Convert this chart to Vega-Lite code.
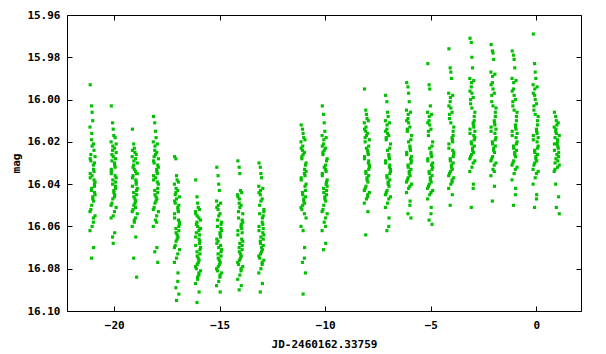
{
"$schema": "https://vega.github.io/schema/vega-lite/v6.json",
"width": 514, "height": 296,
"autosize": "none",
"padding": {"left": 67, "top": 15, "right": 25, "bottom": 43},
"background": "white",
"config": {
  "view": {"stroke": "black", "strokeWidth": 1},
  "axis": {"domain": false, "grid": false, "tickColor": "black", "tickWidth": 1, "tickSize": -5,
           "labelFont": "DejaVu Sans Mono", "labelFontWeight": "bold", "labelFontSize": 11, "labelColor": "black",
           "titleFont": "DejaVu Sans Mono", "titleFontWeight": "bold", "titleFontSize": 11, "titleColor": "black"}
},
"layer": [
{
"data": {"values": [
{"t":-21.14,"m":15.993},{"t":-20.99,"m":16.031},{"t":-21.08,"m":16.003},{"t":-20.94,"m":16.044},{"t":-21.05,"m":16.006},{"t":-20.91,"m":16.027},{"t":-21.11,"m":16.052},{"t":-21.02,"m":16.010},{"t":-20.96,"m":16.038},{"t":-21.15,"m":16.013},{"t":-20.98,"m":16.048},{"t":-21.07,"m":16.016},
{"t":-21.14,"m":16.035},{"t":-20.99,"m":16.058},{"t":-21.08,"m":16.019},{"t":-20.94,"m":16.041},{"t":-21.05,"m":16.022},{"t":-20.91,"m":16.055},{"t":-21.11,"m":16.029},{"t":-21.02,"m":16.046},{"t":-20.96,"m":16.024},{"t":-21.15,"m":16.062},{"t":-20.98,"m":16.033},{"t":-21.07,"m":16.050},
{"t":-21.14,"m":16.037},{"t":-20.99,"m":16.021},{"t":-21.08,"m":16.043},{"t":-20.94,"m":16.030},{"t":-21.05,"m":16.060},{"t":-20.91,"m":16.039},{"t":-21.11,"m":16.026},{"t":-21.02,"m":16.047},{"t":-20.96,"m":16.034},{"t":-21.15,"m":16.053},{"t":-20.98,"m":16.070},{"t":-21.07,"m":16.042},
{"t":-21.14,"m":16.028},{"t":-20.99,"m":16.056},{"t":-21.08,"m":16.075},{"t":-20.94,"m":16.040},{"t":-21.05,"m":16.036},{"t":-20.91,"m":16.045},
{"t":-20.14,"m":16.003},{"t":-19.99,"m":16.030},{"t":-20.08,"m":16.011},{"t":-19.94,"m":16.041},{"t":-20.05,"m":16.014},{"t":-19.91,"m":16.025},{"t":-20.11,"m":16.049},{"t":-20.02,"m":16.017},{"t":-19.96,"m":16.036},{"t":-20.15,"m":16.020},{"t":-19.98,"m":16.045},{"t":-20.07,"m":16.022},
{"t":-20.14,"m":16.033},{"t":-19.99,"m":16.053},{"t":-20.08,"m":16.024},{"t":-19.94,"m":16.039},{"t":-20.05,"m":16.027},{"t":-19.91,"m":16.051},{"t":-20.11,"m":16.029},{"t":-20.02,"m":16.043},{"t":-19.96,"m":16.018},{"t":-20.15,"m":16.056},{"t":-19.98,"m":16.031},{"t":-20.07,"m":16.047},
{"t":-20.14,"m":16.035},{"t":-19.99,"m":16.023},{"t":-20.08,"m":16.040},{"t":-19.94,"m":16.028},{"t":-20.05,"m":16.055},{"t":-19.91,"m":16.037},{"t":-20.11,"m":16.026},{"t":-20.02,"m":16.044},{"t":-19.96,"m":16.032},{"t":-20.15,"m":16.050},{"t":-19.98,"m":16.063},{"t":-20.07,"m":16.038},
{"t":-20.14,"m":16.034},{"t":-19.99,"m":16.046},{"t":-20.08,"m":16.065},{"t":-19.94,"m":16.042},{"t":-20.05,"m":16.068},{"t":-19.91,"m":16.021},
{"t":-19.14,"m":16.014},{"t":-18.99,"m":16.034},{"t":-19.08,"m":16.021},{"t":-18.94,"m":16.045},{"t":-19.05,"m":16.023},{"t":-18.91,"m":16.030},{"t":-19.11,"m":16.052},{"t":-19.02,"m":16.025},{"t":-18.96,"m":16.040},{"t":-19.15,"m":16.027},{"t":-18.98,"m":16.048},{"t":-19.07,"m":16.029},
{"t":-19.14,"m":16.037},{"t":-18.99,"m":16.056},{"t":-19.08,"m":16.031},{"t":-18.94,"m":16.043},{"t":-19.05,"m":16.033},{"t":-18.91,"m":16.054},{"t":-19.11,"m":16.036},{"t":-19.02,"m":16.047},{"t":-18.96,"m":16.026},{"t":-19.15,"m":16.060},{"t":-18.98,"m":16.038},{"t":-19.07,"m":16.050},
{"t":-19.14,"m":16.041},{"t":-18.99,"m":16.028},{"t":-19.08,"m":16.044},{"t":-18.94,"m":16.035},{"t":-19.05,"m":16.058},{"t":-18.91,"m":16.042},{"t":-19.11,"m":16.032},{"t":-19.02,"m":16.049},{"t":-18.96,"m":16.039},{"t":-19.15,"m":16.053},{"t":-18.98,"m":16.065},{"t":-19.07,"m":16.046},
{"t":-19.14,"m":16.024},{"t":-18.99,"m":16.051},{"t":-19.08,"m":16.075},{"t":-18.94,"m":16.084},{"t":-19.05,"m":16.057},{"t":-18.91,"m":16.035},
{"t":-18.14,"m":16.008},{"t":-17.99,"m":16.033},{"t":-18.08,"m":16.011},{"t":-17.94,"m":16.044},{"t":-18.05,"m":16.015},{"t":-17.91,"m":16.028},{"t":-18.11,"m":16.051},{"t":-18.02,"m":16.018},{"t":-17.96,"m":16.039},{"t":-18.15,"m":16.020},{"t":-17.98,"m":16.047},{"t":-18.07,"m":16.022},
{"t":-18.14,"m":16.036},{"t":-17.99,"m":16.055},{"t":-18.08,"m":16.024},{"t":-17.94,"m":16.042},{"t":-18.05,"m":16.026},{"t":-17.91,"m":16.053},{"t":-18.11,"m":16.030},{"t":-18.02,"m":16.046},{"t":-17.96,"m":16.021},{"t":-18.15,"m":16.060},{"t":-17.98,"m":16.034},{"t":-18.07,"m":16.049},
{"t":-18.14,"m":16.038},{"t":-17.99,"m":16.025},{"t":-18.08,"m":16.043},{"t":-17.94,"m":16.031},{"t":-18.05,"m":16.057},{"t":-17.91,"m":16.040},{"t":-18.11,"m":16.027},{"t":-18.02,"m":16.048},{"t":-17.96,"m":16.035},{"t":-18.15,"m":16.052},{"t":-17.98,"m":16.070},{"t":-18.07,"m":16.045},
{"t":-18.14,"m":16.029},{"t":-17.99,"m":16.058},{"t":-18.08,"m":16.072},{"t":-17.94,"m":16.077},{"t":-18.05,"m":16.037},{"t":-17.91,"m":16.032},
{"t":-17.14,"m":16.027},{"t":-16.99,"m":16.051},{"t":-17.08,"m":16.028},{"t":-16.94,"m":16.062},{"t":-17.05,"m":16.036},{"t":-16.91,"m":16.046},{"t":-17.11,"m":16.069},{"t":-17.02,"m":16.038},{"t":-16.96,"m":16.057},{"t":-17.15,"m":16.040},{"t":-16.98,"m":16.065},{"t":-17.07,"m":16.042},
{"t":-17.14,"m":16.054},{"t":-16.99,"m":16.073},{"t":-17.08,"m":16.044},{"t":-16.94,"m":16.060},{"t":-17.05,"m":16.047},{"t":-16.91,"m":16.071},{"t":-17.11,"m":16.049},{"t":-17.02,"m":16.064},{"t":-16.96,"m":16.039},{"t":-17.15,"m":16.077},{"t":-16.98,"m":16.052},{"t":-17.07,"m":16.067},
{"t":-17.14,"m":16.056},{"t":-16.99,"m":16.043},{"t":-17.08,"m":16.061},{"t":-16.94,"m":16.050},{"t":-17.05,"m":16.075},{"t":-16.91,"m":16.058},{"t":-17.11,"m":16.045},{"t":-17.02,"m":16.066},{"t":-16.96,"m":16.053},{"t":-17.15,"m":16.070},{"t":-16.98,"m":16.082},{"t":-17.07,"m":16.063},
{"t":-17.14,"m":16.048},{"t":-16.99,"m":16.086},{"t":-17.08,"m":16.089},{"t":-16.94,"m":16.092},{"t":-17.05,"m":16.095},{"t":-16.91,"m":16.059},
{"t":-16.14,"m":16.038},{"t":-15.99,"m":16.062},{"t":-16.08,"m":16.046},{"t":-15.94,"m":16.073},{"t":-16.05,"m":16.049},{"t":-15.91,"m":16.057},{"t":-16.11,"m":16.080},{"t":-16.02,"m":16.051},{"t":-15.96,"m":16.068},{"t":-16.15,"m":16.053},{"t":-15.98,"m":16.076},{"t":-16.07,"m":16.055},
{"t":-16.14,"m":16.065},{"t":-15.99,"m":16.083},{"t":-16.08,"m":16.058},{"t":-15.94,"m":16.071},{"t":-16.05,"m":16.060},{"t":-15.91,"m":16.081},{"t":-16.11,"m":16.063},{"t":-16.02,"m":16.075},{"t":-15.96,"m":16.052},{"t":-16.15,"m":16.087},{"t":-15.98,"m":16.066},{"t":-16.07,"m":16.078},
{"t":-16.14,"m":16.069},{"t":-15.99,"m":16.056},{"t":-16.08,"m":16.072},{"t":-15.94,"m":16.061},{"t":-16.05,"m":16.085},{"t":-15.91,"m":16.070},{"t":-16.11,"m":16.059},{"t":-16.02,"m":16.077},{"t":-15.96,"m":16.064},{"t":-16.15,"m":16.079},{"t":-15.98,"m":16.091},{"t":-16.07,"m":16.074},
{"t":-16.14,"m":16.054},{"t":-15.99,"m":16.082},{"t":-16.08,"m":16.096},{"t":-15.94,"m":16.067},{"t":-16.05,"m":16.084},{"t":-15.91,"m":16.061},
{"t":-15.14,"m":16.032},{"t":-14.99,"m":16.063},{"t":-15.08,"m":16.036},{"t":-14.94,"m":16.074},{"t":-15.05,"m":16.040},{"t":-14.91,"m":16.058},{"t":-15.11,"m":16.081},{"t":-15.02,"m":16.043},{"t":-14.96,"m":16.069},{"t":-15.15,"m":16.048},{"t":-14.98,"m":16.077},{"t":-15.07,"m":16.050},
{"t":-15.14,"m":16.066},{"t":-14.99,"m":16.084},{"t":-15.08,"m":16.052},{"t":-14.94,"m":16.072},{"t":-15.05,"m":16.055},{"t":-14.91,"m":16.082},{"t":-15.11,"m":16.060},{"t":-15.02,"m":16.076},{"t":-14.96,"m":16.049},{"t":-15.15,"m":16.088},{"t":-14.98,"m":16.064},{"t":-15.07,"m":16.079},
{"t":-15.14,"m":16.068},{"t":-14.99,"m":16.054},{"t":-15.08,"m":16.073},{"t":-14.94,"m":16.061},{"t":-15.05,"m":16.086},{"t":-14.91,"m":16.071},{"t":-15.11,"m":16.057},{"t":-15.02,"m":16.078},{"t":-14.96,"m":16.065},{"t":-15.15,"m":16.080},{"t":-14.98,"m":16.091},{"t":-15.07,"m":16.075},
{"t":-15.14,"m":16.051},{"t":-14.99,"m":16.083},{"t":-15.08,"m":16.067},{"t":-14.94,"m":16.059},{"t":-15.05,"m":16.070},{"t":-14.91,"m":16.062},
{"t":-14.14,"m":16.029},{"t":-13.99,"m":16.060},{"t":-14.08,"m":16.032},{"t":-13.94,"m":16.071},{"t":-14.05,"m":16.035},{"t":-13.91,"m":16.054},{"t":-14.11,"m":16.078},{"t":-14.02,"m":16.043},{"t":-13.96,"m":16.066},{"t":-14.15,"m":16.045},{"t":-13.98,"m":16.074},{"t":-14.07,"m":16.047},
{"t":-14.14,"m":16.062},{"t":-13.99,"m":16.081},{"t":-14.08,"m":16.049},{"t":-13.94,"m":16.069},{"t":-14.05,"m":16.051},{"t":-13.91,"m":16.079},{"t":-14.11,"m":16.056},{"t":-14.02,"m":16.073},{"t":-13.96,"m":16.044},{"t":-14.15,"m":16.085},{"t":-13.98,"m":16.059},{"t":-14.07,"m":16.076},
{"t":-14.14,"m":16.064},{"t":-13.99,"m":16.050},{"t":-14.08,"m":16.070},{"t":-13.94,"m":16.057},{"t":-14.05,"m":16.083},{"t":-13.91,"m":16.067},{"t":-14.11,"m":16.053},{"t":-14.02,"m":16.075},{"t":-13.96,"m":16.061},{"t":-14.15,"m":16.077},{"t":-13.98,"m":16.088},{"t":-14.07,"m":16.072},
{"t":-14.14,"m":16.046},{"t":-13.99,"m":16.080},{"t":-14.08,"m":16.090},{"t":-13.94,"m":16.063},{"t":-14.05,"m":16.068},{"t":-13.91,"m":16.058},
{"t":-13.14,"m":16.030},{"t":-12.99,"m":16.058},{"t":-13.08,"m":16.032},{"t":-12.94,"m":16.069},{"t":-13.05,"m":16.035},{"t":-12.91,"m":16.052},{"t":-13.11,"m":16.075},{"t":-13.02,"m":16.037},{"t":-12.96,"m":16.063},{"t":-13.15,"m":16.041},{"t":-12.98,"m":16.071},{"t":-13.07,"m":16.043},
{"t":-13.14,"m":16.060},{"t":-12.99,"m":16.078},{"t":-13.08,"m":16.045},{"t":-12.94,"m":16.066},{"t":-13.05,"m":16.048},{"t":-12.91,"m":16.076},{"t":-13.11,"m":16.054},{"t":-13.02,"m":16.070},{"t":-12.96,"m":16.042},{"t":-13.15,"m":16.082},{"t":-12.98,"m":16.056},{"t":-13.07,"m":16.073},
{"t":-13.14,"m":16.062},{"t":-12.99,"m":16.047},{"t":-13.08,"m":16.067},{"t":-12.94,"m":16.055},{"t":-13.05,"m":16.080},{"t":-12.91,"m":16.064},{"t":-13.11,"m":16.050},{"t":-13.02,"m":16.072},{"t":-12.96,"m":16.059},{"t":-13.15,"m":16.074},{"t":-12.98,"m":16.087},{"t":-13.07,"m":16.068},
{"t":-13.14,"m":16.044},{"t":-12.99,"m":16.077},{"t":-13.08,"m":16.091},{"t":-12.94,"m":16.061},{"t":-13.05,"m":16.065},{"t":-12.91,"m":16.053},
{"t":-11.14,"m":16.012},{"t":-10.99,"m":16.035},{"t":-11.08,"m":16.014},{"t":-10.94,"m":16.046},{"t":-11.05,"m":16.016},{"t":-10.91,"m":16.030},{"t":-11.11,"m":16.052},{"t":-11.02,"m":16.018},{"t":-10.96,"m":16.041},{"t":-11.15,"m":16.020},{"t":-10.98,"m":16.049},{"t":-11.07,"m":16.022},
{"t":-11.14,"m":16.038},{"t":-10.99,"m":16.054},{"t":-11.08,"m":16.024},{"t":-10.94,"m":16.043},{"t":-11.05,"m":16.026},{"t":-10.91,"m":16.056},{"t":-11.11,"m":16.028},{"t":-11.02,"m":16.047},{"t":-10.96,"m":16.019},{"t":-11.15,"m":16.060},{"t":-10.98,"m":16.033},{"t":-11.07,"m":16.050},
{"t":-11.14,"m":16.037},{"t":-10.99,"m":16.025},{"t":-11.08,"m":16.044},{"t":-10.94,"m":16.031},{"t":-11.05,"m":16.062},{"t":-10.91,"m":16.040},{"t":-11.11,"m":16.027},{"t":-11.02,"m":16.048},{"t":-10.96,"m":16.036},{"t":-11.15,"m":16.051},{"t":-10.98,"m":16.070},{"t":-11.07,"m":16.045},
{"t":-11.14,"m":16.023},{"t":-10.99,"m":16.075},{"t":-11.08,"m":16.077},{"t":-10.94,"m":16.082},{"t":-11.05,"m":16.092},{"t":-10.91,"m":16.034},
{"t":-10.14,"m":16.003},{"t":-9.99,"m":16.033},{"t":-10.08,"m":16.007},{"t":-9.94,"m":16.045},{"t":-10.05,"m":16.011},{"t":-9.91,"m":16.028},{"t":-10.11,"m":16.052},{"t":-10.02,"m":16.015},{"t":-9.96,"m":16.040},{"t":-10.15,"m":16.017},{"t":-9.98,"m":16.048},{"t":-10.07,"m":16.019},
{"t":-10.14,"m":16.036},{"t":-9.99,"m":16.056},{"t":-10.08,"m":16.021},{"t":-9.94,"m":16.043},{"t":-10.05,"m":16.024},{"t":-9.91,"m":16.054},{"t":-10.11,"m":16.026},{"t":-10.02,"m":16.046},{"t":-9.96,"m":16.018},{"t":-10.15,"m":16.062},{"t":-9.98,"m":16.031},{"t":-10.07,"m":16.050},
{"t":-10.14,"m":16.035},{"t":-9.99,"m":16.023},{"t":-10.08,"m":16.042},{"t":-9.94,"m":16.029},{"t":-10.05,"m":16.058},{"t":-9.91,"m":16.038},{"t":-10.11,"m":16.025},{"t":-10.02,"m":16.047},{"t":-9.96,"m":16.034},{"t":-10.15,"m":16.053},{"t":-9.98,"m":16.068},{"t":-10.07,"m":16.044},
{"t":-10.14,"m":16.022},{"t":-9.99,"m":16.060},{"t":-10.08,"m":16.071},{"t":-9.94,"m":16.039},{"t":-10.05,"m":16.032},{"t":-9.91,"m":16.041},
{"t":-8.14,"m":15.995},{"t":-7.99,"m":16.024},{"t":-8.08,"m":16.005},{"t":-7.94,"m":16.036},{"t":-8.05,"m":16.007},{"t":-7.91,"m":16.019},{"t":-8.11,"m":16.042},{"t":-8.02,"m":16.009},{"t":-7.96,"m":16.030},{"t":-8.15,"m":16.011},{"t":-7.98,"m":16.039},{"t":-8.07,"m":16.013},
{"t":-8.14,"m":16.027},{"t":-7.99,"m":16.045},{"t":-8.08,"m":16.015},{"t":-7.94,"m":16.033},{"t":-8.05,"m":16.017},{"t":-7.91,"m":16.044},{"t":-8.11,"m":16.020},{"t":-8.02,"m":16.037},{"t":-7.96,"m":16.010},{"t":-8.15,"m":16.049},{"t":-7.98,"m":16.025},{"t":-8.07,"m":16.041},
{"t":-8.14,"m":16.028},{"t":-7.99,"m":16.016},{"t":-8.08,"m":16.034},{"t":-7.94,"m":16.022},{"t":-8.05,"m":16.047},{"t":-7.91,"m":16.031},{"t":-8.11,"m":16.018},{"t":-8.02,"m":16.038},{"t":-7.96,"m":16.026},{"t":-8.15,"m":16.043},{"t":-7.98,"m":16.053},{"t":-8.07,"m":16.035},
{"t":-8.14,"m":16.014},{"t":-7.99,"m":16.046},{"t":-8.08,"m":16.064},{"t":-7.94,"m":16.029},{"t":-8.05,"m":16.023},{"t":-7.91,"m":16.032},
{"t":-7.14,"m":15.998},{"t":-6.99,"m":16.026},{"t":-7.08,"m":16.001},{"t":-6.94,"m":16.038},{"t":-7.05,"m":16.006},{"t":-6.91,"m":16.021},{"t":-7.11,"m":16.044},{"t":-7.02,"m":16.008},{"t":-6.96,"m":16.032},{"t":-7.15,"m":16.010},{"t":-6.98,"m":16.041},{"t":-7.07,"m":16.012},
{"t":-7.14,"m":16.029},{"t":-6.99,"m":16.047},{"t":-7.08,"m":16.014},{"t":-6.94,"m":16.035},{"t":-7.05,"m":16.016},{"t":-6.91,"m":16.046},{"t":-7.11,"m":16.018},{"t":-7.02,"m":16.039},{"t":-6.96,"m":16.011},{"t":-7.15,"m":16.051},{"t":-6.98,"m":16.027},{"t":-7.07,"m":16.043},
{"t":-7.14,"m":16.030},{"t":-6.99,"m":16.017},{"t":-7.08,"m":16.036},{"t":-6.94,"m":16.023},{"t":-7.05,"m":16.049},{"t":-6.91,"m":16.033},{"t":-7.11,"m":16.019},{"t":-7.02,"m":16.040},{"t":-6.96,"m":16.028},{"t":-7.15,"m":16.045},{"t":-6.98,"m":16.056},{"t":-7.07,"m":16.037},
{"t":-7.14,"m":16.015},{"t":-6.99,"m":16.060},{"t":-7.08,"m":16.062},{"t":-6.94,"m":16.031},{"t":-7.05,"m":16.024},{"t":-6.91,"m":16.034},
{"t":-6.14,"m":15.992},{"t":-5.99,"m":16.022},{"t":-6.08,"m":15.994},{"t":-5.94,"m":16.033},{"t":-6.05,"m":15.997},{"t":-5.91,"m":16.017},{"t":-6.11,"m":16.038},{"t":-6.02,"m":16.001},{"t":-5.96,"m":16.028},{"t":-6.15,"m":16.005},{"t":-5.98,"m":16.036},{"t":-6.07,"m":16.007},
{"t":-6.14,"m":16.025},{"t":-5.99,"m":16.041},{"t":-6.08,"m":16.009},{"t":-5.94,"m":16.030},{"t":-6.05,"m":16.011},{"t":-5.91,"m":16.040},{"t":-6.11,"m":16.014},{"t":-6.02,"m":16.034},{"t":-5.96,"m":16.006},{"t":-6.15,"m":16.044},{"t":-5.98,"m":16.023},{"t":-6.07,"m":16.037},
{"t":-6.14,"m":16.026},{"t":-5.99,"m":16.013},{"t":-6.08,"m":16.031},{"t":-5.94,"m":16.019},{"t":-6.05,"m":16.042},{"t":-5.91,"m":16.029},{"t":-6.11,"m":16.015},{"t":-6.02,"m":16.035},{"t":-5.96,"m":16.024},{"t":-6.15,"m":16.039},{"t":-5.98,"m":16.048},{"t":-6.07,"m":16.032},
{"t":-6.14,"m":16.010},{"t":-5.99,"m":16.050},{"t":-6.08,"m":16.054},{"t":-5.94,"m":16.056},{"t":-6.05,"m":16.020},{"t":-5.91,"m":16.027},
{"t":-5.14,"m":15.983},{"t":-4.99,"m":16.025},{"t":-5.08,"m":15.993},{"t":-4.94,"m":16.036},{"t":-5.05,"m":15.995},{"t":-4.91,"m":16.020},{"t":-5.11,"m":16.041},{"t":-5.02,"m":16.003},{"t":-4.96,"m":16.031},{"t":-5.15,"m":16.006},{"t":-4.98,"m":16.039},{"t":-5.07,"m":16.008},
{"t":-5.14,"m":16.028},{"t":-4.99,"m":16.044},{"t":-5.08,"m":16.010},{"t":-4.94,"m":16.033},{"t":-5.05,"m":16.012},{"t":-4.91,"m":16.043},{"t":-5.11,"m":16.015},{"t":-5.02,"m":16.037},{"t":-4.96,"m":16.007},{"t":-5.15,"m":16.047},{"t":-4.98,"m":16.026},{"t":-5.07,"m":16.040},
{"t":-5.14,"m":16.029},{"t":-4.99,"m":16.014},{"t":-5.08,"m":16.034},{"t":-4.94,"m":16.022},{"t":-5.05,"m":16.045},{"t":-4.91,"m":16.032},{"t":-5.11,"m":16.017},{"t":-5.02,"m":16.038},{"t":-4.96,"m":16.027},{"t":-5.15,"m":16.042},{"t":-4.98,"m":16.051},{"t":-5.07,"m":16.035},
{"t":-5.14,"m":16.011},{"t":-4.99,"m":16.054},{"t":-5.08,"m":16.057},{"t":-4.94,"m":16.059},{"t":-5.05,"m":16.023},{"t":-4.91,"m":16.030},
{"t":-4.14,"m":15.976},{"t":-3.99,"m":16.018},{"t":-4.08,"m":15.985},{"t":-3.94,"m":16.030},{"t":-4.05,"m":15.987},{"t":-3.91,"m":16.013},{"t":-4.11,"m":16.035},{"t":-4.02,"m":15.990},{"t":-3.96,"m":16.024},{"t":-4.15,"m":15.997},{"t":-3.98,"m":16.033},{"t":-4.07,"m":15.999},
{"t":-4.14,"m":16.021},{"t":-3.99,"m":16.038},{"t":-4.08,"m":16.001},{"t":-3.94,"m":16.027},{"t":-4.05,"m":16.004},{"t":-3.91,"m":16.037},{"t":-4.11,"m":16.007},{"t":-4.02,"m":16.031},{"t":-3.96,"m":15.998},{"t":-4.15,"m":16.042},{"t":-3.98,"m":16.019},{"t":-4.07,"m":16.034},
{"t":-4.14,"m":16.023},{"t":-3.99,"m":16.006},{"t":-4.08,"m":16.028},{"t":-3.94,"m":16.015},{"t":-4.05,"m":16.040},{"t":-3.91,"m":16.026},{"t":-4.11,"m":16.009},{"t":-4.02,"m":16.032},{"t":-3.96,"m":16.020},{"t":-4.15,"m":16.036},{"t":-3.98,"m":16.045},{"t":-4.07,"m":16.029},
{"t":-4.14,"m":16.003},{"t":-3.99,"m":16.039},{"t":-4.08,"m":16.050},{"t":-3.94,"m":16.017},{"t":-4.05,"m":16.011},{"t":-3.91,"m":16.025},
{"t":-3.14,"m":15.971},{"t":-2.99,"m":16.011},{"t":-3.08,"m":15.973},{"t":-2.94,"m":16.022},{"t":-3.05,"m":15.980},{"t":-2.91,"m":16.006},{"t":-3.11,"m":16.027},{"t":-3.02,"m":15.985},{"t":-2.96,"m":16.017},{"t":-3.15,"m":15.990},{"t":-2.98,"m":16.025},{"t":-3.07,"m":15.992},
{"t":-3.14,"m":16.014},{"t":-2.99,"m":16.030},{"t":-3.08,"m":15.994},{"t":-2.94,"m":16.019},{"t":-3.05,"m":15.997},{"t":-2.91,"m":16.029},{"t":-3.11,"m":16.000},{"t":-3.02,"m":16.023},{"t":-2.96,"m":15.991},{"t":-3.15,"m":16.034},{"t":-2.98,"m":16.012},{"t":-3.07,"m":16.026},
{"t":-3.14,"m":16.016},{"t":-2.99,"m":15.999},{"t":-3.08,"m":16.020},{"t":-2.94,"m":16.008},{"t":-3.05,"m":16.032},{"t":-2.91,"m":16.018},{"t":-3.11,"m":16.002},{"t":-3.02,"m":16.024},{"t":-2.96,"m":16.013},{"t":-3.15,"m":16.028},{"t":-2.98,"m":16.040},{"t":-3.07,"m":16.021},
{"t":-3.14,"m":15.996},{"t":-2.99,"m":16.042},{"t":-3.08,"m":16.051},{"t":-2.94,"m":16.010},{"t":-3.05,"m":16.004},{"t":-2.91,"m":16.015},
{"t":-2.14,"m":15.974},{"t":-1.99,"m":16.010},{"t":-2.08,"m":15.977},{"t":-1.94,"m":16.022},{"t":-2.05,"m":15.978},{"t":-1.91,"m":16.004},{"t":-2.11,"m":16.028},{"t":-2.02,"m":15.981},{"t":-1.96,"m":16.016},{"t":-2.15,"m":15.987},{"t":-1.98,"m":16.025},{"t":-2.07,"m":15.989},
{"t":-2.14,"m":16.013},{"t":-1.99,"m":16.031},{"t":-2.08,"m":15.992},{"t":-1.94,"m":16.019},{"t":-2.05,"m":15.995},{"t":-1.91,"m":16.030},{"t":-2.11,"m":15.998},{"t":-2.02,"m":16.023},{"t":-1.96,"m":15.988},{"t":-2.15,"m":16.036},{"t":-1.98,"m":16.011},{"t":-2.07,"m":16.027},
{"t":-2.14,"m":16.015},{"t":-1.99,"m":15.997},{"t":-2.08,"m":16.020},{"t":-1.94,"m":16.006},{"t":-2.05,"m":16.033},{"t":-1.91,"m":16.018},{"t":-2.11,"m":16.001},{"t":-2.02,"m":16.024},{"t":-1.96,"m":16.012},{"t":-2.15,"m":16.029},{"t":-1.98,"m":16.041},{"t":-2.07,"m":16.021},
{"t":-2.14,"m":15.993},{"t":-1.99,"m":16.034},{"t":-2.08,"m":16.048},{"t":-1.94,"m":16.008},{"t":-2.05,"m":16.003},{"t":-1.91,"m":16.014},
{"t":-1.14,"m":15.977},{"t":-0.99,"m":16.012},{"t":-1.08,"m":15.979},{"t":-0.94,"m":16.024},{"t":-1.05,"m":15.981},{"t":-0.91,"m":16.006},{"t":-1.11,"m":16.030},{"t":-1.02,"m":15.985},{"t":-0.96,"m":16.018},{"t":-1.15,"m":15.990},{"t":-0.98,"m":16.027},{"t":-1.07,"m":15.992},
{"t":-1.14,"m":16.015},{"t":-0.99,"m":16.033},{"t":-1.08,"m":15.995},{"t":-0.94,"m":16.021},{"t":-1.05,"m":15.998},{"t":-0.91,"m":16.032},{"t":-1.11,"m":16.001},{"t":-1.02,"m":16.025},{"t":-0.96,"m":15.991},{"t":-1.15,"m":16.038},{"t":-0.98,"m":16.013},{"t":-1.07,"m":16.029},
{"t":-1.14,"m":16.017},{"t":-0.99,"m":16.000},{"t":-1.08,"m":16.022},{"t":-0.94,"m":16.008},{"t":-1.05,"m":16.035},{"t":-0.91,"m":16.020},{"t":-1.11,"m":16.003},{"t":-1.02,"m":16.026},{"t":-0.96,"m":16.014},{"t":-1.15,"m":16.031},{"t":-0.98,"m":16.042},{"t":-1.07,"m":16.023},
{"t":-1.14,"m":15.996},{"t":-0.99,"m":16.045},{"t":-1.08,"m":16.050},{"t":-0.94,"m":16.010},{"t":-1.05,"m":16.005},{"t":-0.91,"m":16.016},
{"t":-0.14,"m":15.969},{"t":0.01,"m":16.014},{"t":-0.08,"m":15.983},{"t":0.06,"m":16.026},{"t":-0.05,"m":15.987},{"t":0.09,"m":16.008},{"t":-0.11,"m":16.031},{"t":-0.02,"m":15.990},{"t":0.04,"m":16.020},{"t":-0.15,"m":15.993},{"t":0.02,"m":16.029},{"t":-0.07,"m":15.995},
{"t":-0.14,"m":16.017},{"t":0.01,"m":16.035},{"t":-0.08,"m":15.998},{"t":0.06,"m":16.023},{"t":-0.05,"m":16.000},{"t":0.09,"m":16.034},{"t":-0.11,"m":16.003},{"t":-0.02,"m":16.027},{"t":0.04,"m":15.994},{"t":-0.15,"m":16.040},{"t":0.02,"m":16.015},{"t":-0.07,"m":16.030},
{"t":-0.14,"m":16.019},{"t":0.01,"m":16.002},{"t":-0.08,"m":16.024},{"t":0.06,"m":16.010},{"t":-0.05,"m":16.037},{"t":0.09,"m":16.022},{"t":-0.11,"m":16.005},{"t":-0.02,"m":16.028},{"t":0.04,"m":16.016},{"t":-0.15,"m":16.033},{"t":0.02,"m":16.045},{"t":-0.07,"m":16.025},
{"t":-0.14,"m":15.997},{"t":0.01,"m":16.047},{"t":-0.08,"m":16.051},{"t":0.06,"m":16.012},{"t":-0.05,"m":16.007},{"t":0.09,"m":16.018},
{"t":0.86,"m":16.006},{"t":1.01,"m":16.020},{"t":0.92,"m":16.008},{"t":1.06,"m":16.027},{"t":0.95,"m":16.010},{"t":1.09,"m":16.017},{"t":0.89,"m":16.030},{"t":0.98,"m":16.012},{"t":1.04,"m":16.023},{"t":0.85,"m":16.013},{"t":1.02,"m":16.029},{"t":0.93,"m":16.014},
{"t":0.86,"m":16.021},{"t":1.01,"m":16.032},{"t":0.92,"m":16.015},{"t":1.06,"m":16.025},{"t":0.95,"m":16.016},{"t":1.09,"m":16.031},{"t":0.89,"m":16.018},{"t":0.98,"m":16.026},{"t":1.04,"m":16.011},{"t":0.85,"m":16.034},{"t":1.02,"m":16.022},{"t":0.93,"m":16.028},
{"t":0.86,"m":16.024},{"t":1.01,"m":16.019},{"t":0.92,"m":16.040},{"t":1.06,"m":16.046},{"t":0.95,"m":16.051},{"t":1.09,"m":16.054},{"t":0.89,"m":16.033},{"t":0.98,"m":16.021}
]},
"mark": {"type": "square", "size": 10, "color": "#00c000", "opacity": 1},
"encoding": {
  "x": {"field": "t", "type": "quantitative",
        "scale": {"domain": [-22.24, 2.12], "nice": false, "zero": false},
        "axis": {"values": [-20, -15, -10, -5, 0], "labelPadding": 13, "title": "JD-2460162.33759", "titlePadding": 8}},
  "y": {"field": "m", "type": "quantitative",
        "scale": {"domain": [15.96, 16.10], "nice": false, "zero": false, "reverse": true},
        "axis": {"values": [15.96, 15.98, 16.0, 16.02, 16.04, 16.06, 16.08, 16.1], "format": ".2f", "labelPadding": 12, "title": "mag", "titlePadding": 5}}
}
},
{
"data": {"values": [{"t": 0, "m": 16.05}]},
"mark": {"type": "point", "opacity": 0},
"encoding": {
  "x": {"field": "t", "type": "quantitative",
        "scale": {"domain": [-22.24, 2.12], "nice": false, "zero": false},
        "axis": {"orient": "top", "values": [-20, -15, -10, -5, 0], "labels": false, "title": null}},
  "y": {"field": "m", "type": "quantitative",
        "scale": {"domain": [15.96, 16.10], "nice": false, "zero": false, "reverse": true},
        "axis": {"orient": "right", "values": [15.96, 15.98, 16.0, 16.02, 16.04, 16.06, 16.08, 16.1], "labels": false, "title": null}}
}
}
],
"resolve": {"scale": {"x": "independent", "y": "independent"}}
}
